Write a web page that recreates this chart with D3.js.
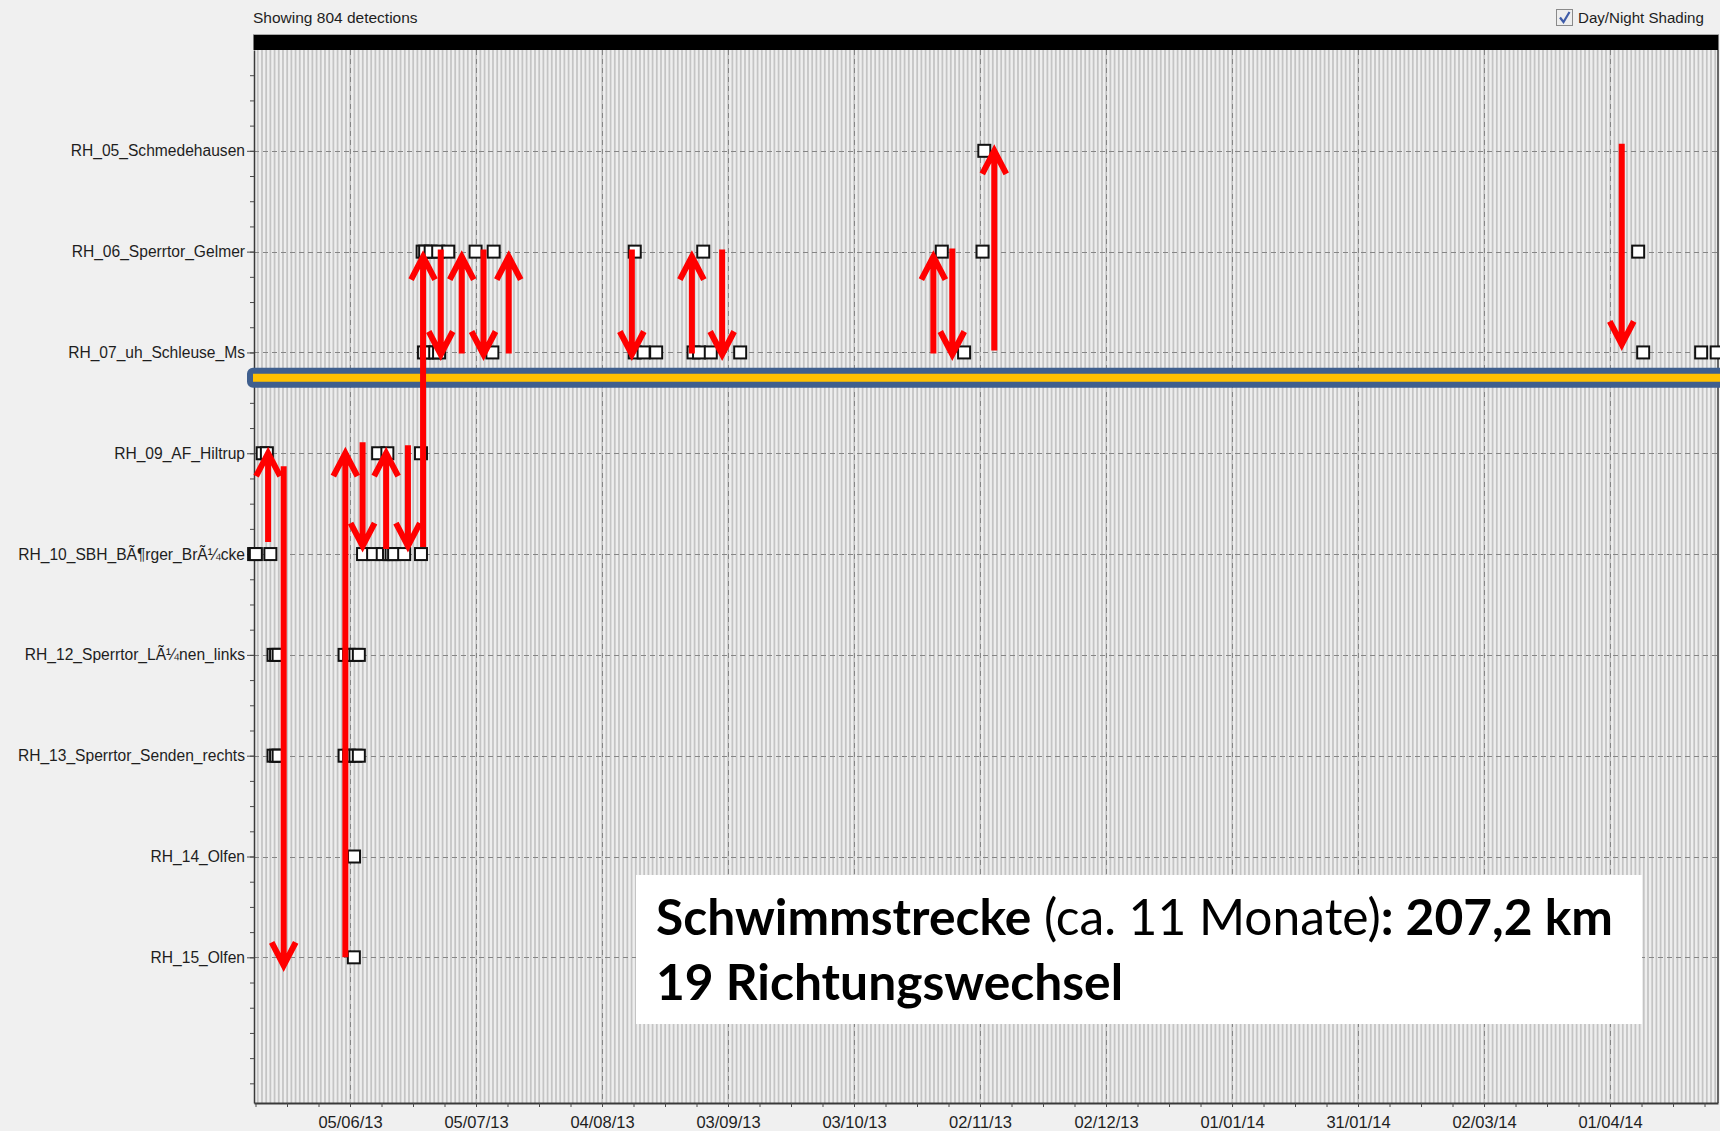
<!DOCTYPE html>
<html>
<head>
<meta charset="utf-8">
<script src="https://cdnjs.cloudflare.com/ajax/libs/d3/7.8.5/d3.min.js"></script>
<style>
  body {
    margin: 0;
    background: #f0f0f0;
    font-family: "Liberation Sans", Arial, sans-serif;
  }
  svg { display: block; }

  .ui-text { fill: #1e1e1e; font-size: 15.5px; }
  .axis text { fill: #1e1e1e; font-family: "Liberation Sans", Arial, sans-serif; }
  .axis line { stroke: #4a4a4a; }
  .axis path { stroke: #3a3a3a; stroke-width: 2px; }
  .grid line { stroke: #858585; stroke-width: 1px; stroke-dasharray: 5,4; }
  .detection { fill: #fff; stroke: #111; stroke-width: 2px; }
  .move { fill: none; stroke: #ff0000; stroke-width: 6px; stroke-linejoin: miter; }
  .note { font-family: Lato, "Noto Sans", sans-serif; fill: #000; }
</style>
</head>
<body>
<script>

// receivers, top to bottom
var stationCodes = ["RH_05", "RH_06", "RH_07", "RH_09", "RH_10", "RH_12", "RH_13", "RH_14", "RH_15"];
var stationLabels = [
  "RH_05_Schmedehausen",
  "RH_06_Sperrtor_Gelmer",
  "RH_07_uh_Schleuse_Ms",
  "RH_09_AF_Hiltrup",
  "RH_10_SBH_B\u00c3\u00b6rger_Br\u00c3\u00bccke",
  "RH_12_Sperrtor_L\u00c3\u00bcnen_links",
  "RH_13_Sperrtor_Senden_rechts",
  "RH_14_Olfen",
  "RH_15_Olfen"
];

var tickLabels = ["05/06/13", "05/07/13", "04/08/13", "03/09/13", "03/10/13", "02/11/13",
                  "02/12/13", "01/01/14", "31/01/14", "02/03/14", "01/04/14"];

var timeRange = ["2013-05-13 03:25", "2014-04-26 17:00"];

// detections: [station, time]
var detections = [
  ["RH_05", "2013-11-03 00:30"],
  ["RH_06", "2013-06-22 07:00"], ["RH_06", "2013-06-22 21:30"], ["RH_06", "2013-06-24 05:00"],
  ["RH_06", "2013-06-26 00:00"], ["RH_06", "2013-06-28 09:30"], ["RH_06", "2013-07-04 21:30"],
  ["RH_06", "2013-07-09 05:00"], ["RH_06", "2013-08-11 19:00"], ["RH_06", "2013-08-28 02:30"],
  ["RH_06", "2013-10-23 21:30"], ["RH_06", "2013-11-02 14:30"], ["RH_06", "2014-04-07 16:45"],
  ["RH_07", "2013-06-22 14:30"], ["RH_07", "2013-06-23 07:00"], ["RH_07", "2013-06-25 07:00"],
  ["RH_07", "2013-06-26 05:00"], ["RH_07", "2013-07-08 21:30"], ["RH_07", "2013-08-11 19:00"],
  ["RH_07", "2013-08-13 21:30"], ["RH_07", "2013-08-16 21:30"], ["RH_07", "2013-08-25 19:00"],
  ["RH_07", "2013-08-27 02:30"], ["RH_07", "2013-08-29 21:30"], ["RH_07", "2013-09-05 21:30"],
  ["RH_07", "2013-10-29 05:00"], ["RH_07", "2014-04-08 21:30"], ["RH_07", "2014-04-22 16:45"],
  ["RH_07", "2014-04-26 09:30"],
  ["RH_09", "2013-05-15 05:00"], ["RH_09", "2013-05-16 05:00"], ["RH_09", "2013-06-11 16:45"],
  ["RH_09", "2013-06-13 21:30"], ["RH_09", "2013-06-21 21:30"],
  ["RH_10", "2013-05-13 04:00"], ["RH_10", "2013-05-13 14:00"], ["RH_10", "2013-05-17 01:00"],
  ["RH_10", "2013-06-08 02:30"], ["RH_10", "2013-06-10 12:00"], ["RH_10", "2013-06-12 19:00"],
  ["RH_10", "2013-06-14 07:00"], ["RH_10", "2013-06-14 21:30"], ["RH_10", "2013-06-15 12:00"],
  ["RH_10", "2013-06-17 21:30"], ["RH_10", "2013-06-21 21:30"],
  ["RH_12", "2013-05-17 19:00"], ["RH_12", "2013-05-18 09:30"], ["RH_12", "2013-05-19 00:00"],
  ["RH_12", "2013-06-03 17:00"], ["RH_12", "2013-06-04 19:00"], ["RH_12", "2013-06-06 07:00"],
  ["RH_12", "2013-06-07 02:30"],
  ["RH_13", "2013-05-17 19:00"], ["RH_13", "2013-05-18 09:30"], ["RH_13", "2013-05-19 00:00"],
  ["RH_13", "2013-06-03 17:00"], ["RH_13", "2013-06-04 19:00"], ["RH_13", "2013-06-06 07:00"],
  ["RH_13", "2013-06-07 02:30"],
  ["RH_14", "2013-06-05 23:00"],
  ["RH_15", "2013-06-05 22:00"]
];

// red direction-change arrows: [time, from row, to row] (rows counted from RH_05 = 0)
var moves = [
  ["2013-05-16 12:00", 3.88, 2.94],
  ["2013-05-20 05:00", 3.13, 8.14],
  ["2013-06-03 21:30", 8.00, 2.94],
  ["2013-06-08 00:00", 2.89, 3.98],
  ["2013-06-13 14:30", 3.95, 2.94],
  ["2013-06-18 19:00", 2.92, 3.98],
  ["2013-06-22 09:30", 3.93, 0.99],
  ["2013-06-26 14:30", 0.98, 2.08],
  ["2013-07-01 14:30", 2.01, 0.99],
  ["2013-07-06 19:00", 0.98, 2.08],
  ["2013-07-12 19:00", 2.01, 0.99],
  ["2013-08-11 02:30", 0.98, 2.08],
  ["2013-08-25 09:30", 2.01, 0.99],
  ["2013-09-01 14:30", 0.98, 2.08],
  ["2013-10-21 21:30", 2.01, 0.99],
  ["2013-10-26 09:30", 0.97, 2.08],
  ["2013-11-05 09:30", 1.98, -0.06],
  ["2014-04-03 19:00", -0.07, 1.98]
];

var bandRow = 2.25;   // highlighted boundary between RH_07 and RH_09

var parseTime = d3.utcParse("%Y-%m-%d %H:%M"),
    parseTick = d3.utcParse("%d/%m/%y"),
    formatTick = d3.utcFormat("%d/%m/%y");

var width = 1720, height = 1131;
var plot = {left: 254, right: 1718, top: 50, bottom: 1103};

var svg = d3.select("body").append("svg")
    .attr("width", width)
    .attr("height", height);

var x = d3.scaleTime()
    .domain(timeRange.map(parseTime))
    .range([plot.left, plot.right]);

var y = d3.scaleLinear()
    .domain([-1, 9.445])
    .range([plot.top, plot.bottom]);

var tickDates = tickLabels.map(parseTick);
var minorDates = d3.range(-3, 44).map(function(i) {
  return d3.utcHour.offset(tickDates[0], i * 180);
});

svg.append("defs").append("clipPath")
    .attr("id", "plot-clip")
  .append("rect")
    .attr("x", plot.left)
    .attr("y", plot.top)
    .attr("width", plot.right - plot.left)
    .attr("height", plot.bottom - plot.top);

// header texts
svg.append("text")
    .attr("class", "ui-text")
    .attr("x", 253)
    .attr("y", 18)
    .attr("dy", "0.35em")
    .text("Showing 804 detections");

svg.append("rect")
    .attr("x", 1556.5).attr("y", 9.5)
    .attr("width", 16).attr("height", 16)
    .attr("fill", "#eeeeee")
    .attr("stroke", "#8a8a8a");
svg.append("path")
    .attr("d", "M1560,17.5 L1563.5,22 L1569.5,12")
    .attr("fill", "none")
    .attr("stroke", "#3f5ca8")
    .attr("stroke-width", 2.2);
svg.append("text")
    .attr("class", "ui-text")
    .attr("x", 1578)
    .attr("y", 18)
    .attr("dy", "0.35em")
    .style("font-size", "15.1px")
    .text("Day/Night Shading");

// day / night shading
svg.append("rect")
    .attr("x", plot.left)
    .attr("y", plot.top)
    .attr("width", plot.right - plot.left)
    .attr("height", plot.bottom - plot.top)
    .attr("fill", "#eeeeee");

var days = d3.utcDay.range(d3.utcDay.offset(x.domain()[0], -1), x.domain()[1]);

svg.append("g")
    .attr("clip-path", "url(#plot-clip)")
  .selectAll("rect")
    .data(days)
  .enter().append("rect")
    .attr("x", function(d) { return x(d3.utcHour.offset(d, 20)); })
    .attr("width", function(d) { return x(d3.utcHour.offset(d, 30)) - x(d3.utcHour.offset(d, 20)); })
    .attr("y", plot.top)
    .attr("height", plot.bottom - plot.top)
    .attr("fill", "#c4c4c4");

// black top bar
svg.append("rect")
    .attr("x", plot.left - 0.5)
    .attr("y", 35)
    .attr("width", plot.right - plot.left + 1)
    .attr("height", 15)
    .attr("fill", "#000");
svg.append("line")
    .attr("x1", plot.left - 1).attr("x2", plot.right + 1)
    .attr("y1", 34.5).attr("y2", 34.5)
    .attr("stroke", "#a8a8a8");

// grid
var grid = svg.append("g").attr("class", "grid");

grid.selectAll(".vgrid")
    .data(tickDates)
  .enter().append("line")
    .attr("class", "vgrid")
    .attr("x1", function(d) { return Math.round(x(d)) + 0.5; })
    .attr("x2", function(d) { return Math.round(x(d)) + 0.5; })
    .attr("y1", plot.top)
    .attr("y2", plot.bottom);

grid.selectAll(".hgrid")
    .data(stationCodes)
  .enter().append("line")
    .attr("class", "hgrid")
    .attr("x1", plot.left)
    .attr("x2", plot.right)
    .attr("y1", function(d, i) { return Math.round(y(i)) + 0.5; })
    .attr("y2", function(d, i) { return Math.round(y(i)) + 0.5; });

// axes
var xAxis = svg.append("g")
    .attr("class", "axis x-axis")
    .attr("transform", "translate(0," + plot.bottom + ")")
    .call(d3.axisBottom(x)
      .tickValues(tickDates)
      .tickFormat(formatTick)
      .tickSize(4)
      .tickSizeOuter(0)
      .tickPadding(9));
xAxis.selectAll("text").style("font-size", "16.5px");

svg.append("g")
    .attr("class", "axis x-minor")
    .attr("transform", "translate(0," + plot.bottom + ")")
    .call(d3.axisBottom(x)
      .tickValues(minorDates.filter(function(d) { return x(d) >= plot.left - 1 && x(d) <= plot.right; }))
      .tickFormat("")
      .tickSize(4))
  .select(".domain").remove();

var yAxis = svg.append("g")
    .attr("class", "axis y-axis")
    .attr("transform", "translate(" + plot.left + ",0)")
    .call(d3.axisLeft(y)
      .tickValues(d3.range(stationLabels.length))
      .tickFormat(function(i) { return stationLabels[i]; })
      .tickSize(7)
      .tickSizeOuter(0)
      .tickPadding(2));
yAxis.selectAll("text").style("font-size", "15.6px");
yAxis.select(".domain").style("stroke-width", "1.5px");

svg.append("g")
    .attr("class", "axis y-minor")
    .attr("transform", "translate(" + plot.left + ",0)")
    .call(d3.axisLeft(y)
      .tickValues(d3.range(-0.75, 9.3, 0.25))
      .tickFormat("")
      .tickSize(4))
  .select(".domain").remove();

// right border
svg.append("line")
    .attr("x1", plot.right).attr("x2", plot.right)
    .attr("y1", plot.top).attr("y2", plot.bottom)
    .attr("stroke", "#3a3a3a")
    .attr("stroke-width", 1.5);

// highlighted band
svg.append("rect")
    .attr("x", 250)
    .attr("y", y(bandRow) - 7)
    .attr("width", 1500)
    .attr("height", 14)
    .attr("rx", 3)
    .attr("fill", "#ffc000")
    .attr("stroke", "#3f5f8e")
    .attr("stroke-width", 6);

// detections
var stationIndex = {};
stationCodes.forEach(function(c, i) { stationIndex[c] = i; });

svg.append("g")
  .selectAll(".detection")
    .data(detections)
  .enter().append("rect")
    .attr("class", "detection")
    .attr("x", function(d) { return x(parseTime(d[1])) - 6; })
    .attr("y", function(d) { return y(stationIndex[d[0]]) - 6; })
    .attr("width", 12)
    .attr("height", 12);

// arrows
function arrowPath(d) {
  var ax = x(parseTime(d[0])),
      y0 = y(d[1]),
      y1 = y(d[2]),
      dir = y1 < y0 ? -1 : 1,
      tip = y1 - dir * 6;
  return "M" + ax + "," + y0 + "L" + ax + "," + tip +
         "M" + (ax - 12) + "," + (tip - dir * 23) +
         "L" + ax + "," + tip +
         "L" + (ax + 12) + "," + (tip - dir * 23);
}

svg.append("g")
  .selectAll(".move")
    .data(moves)
  .enter().append("path")
    .attr("class", "move")
    .attr("d", arrowPath);

// summary box
svg.append("rect")
    .attr("x", 636)
    .attr("y", 875)
    .attr("width", 1006)
    .attr("height", 149)
    .attr("fill", "#fff");

var line1 = svg.append("text")
    .attr("class", "note")
    .attr("x", 656)
    .attr("y", 935)
    .style("font-size", "46px");
line1.append("tspan").style("font-weight", 700).text("Schwimmstrecke");
line1.append("tspan").style("font-weight", 400).text(" (ca. 11 Monate)");
line1.append("tspan").style("font-weight", 700).text(": 207,2 km");

var line2 = svg.append("text")
    .attr("class", "note")
    .attr("x", 656)
    .attr("y", 1000)
    .style("font-size", "46px")
    .style("font-weight", 700)
    .text("19 Richtungswechsel");

// fit the note font to the width of the first line in the picture
var fit = 46 * 957 / line1.node().getComputedTextLength();
line1.style("font-size", fit + "px");
line2.style("font-size", fit + "px");

</script>
</body>
</html>
